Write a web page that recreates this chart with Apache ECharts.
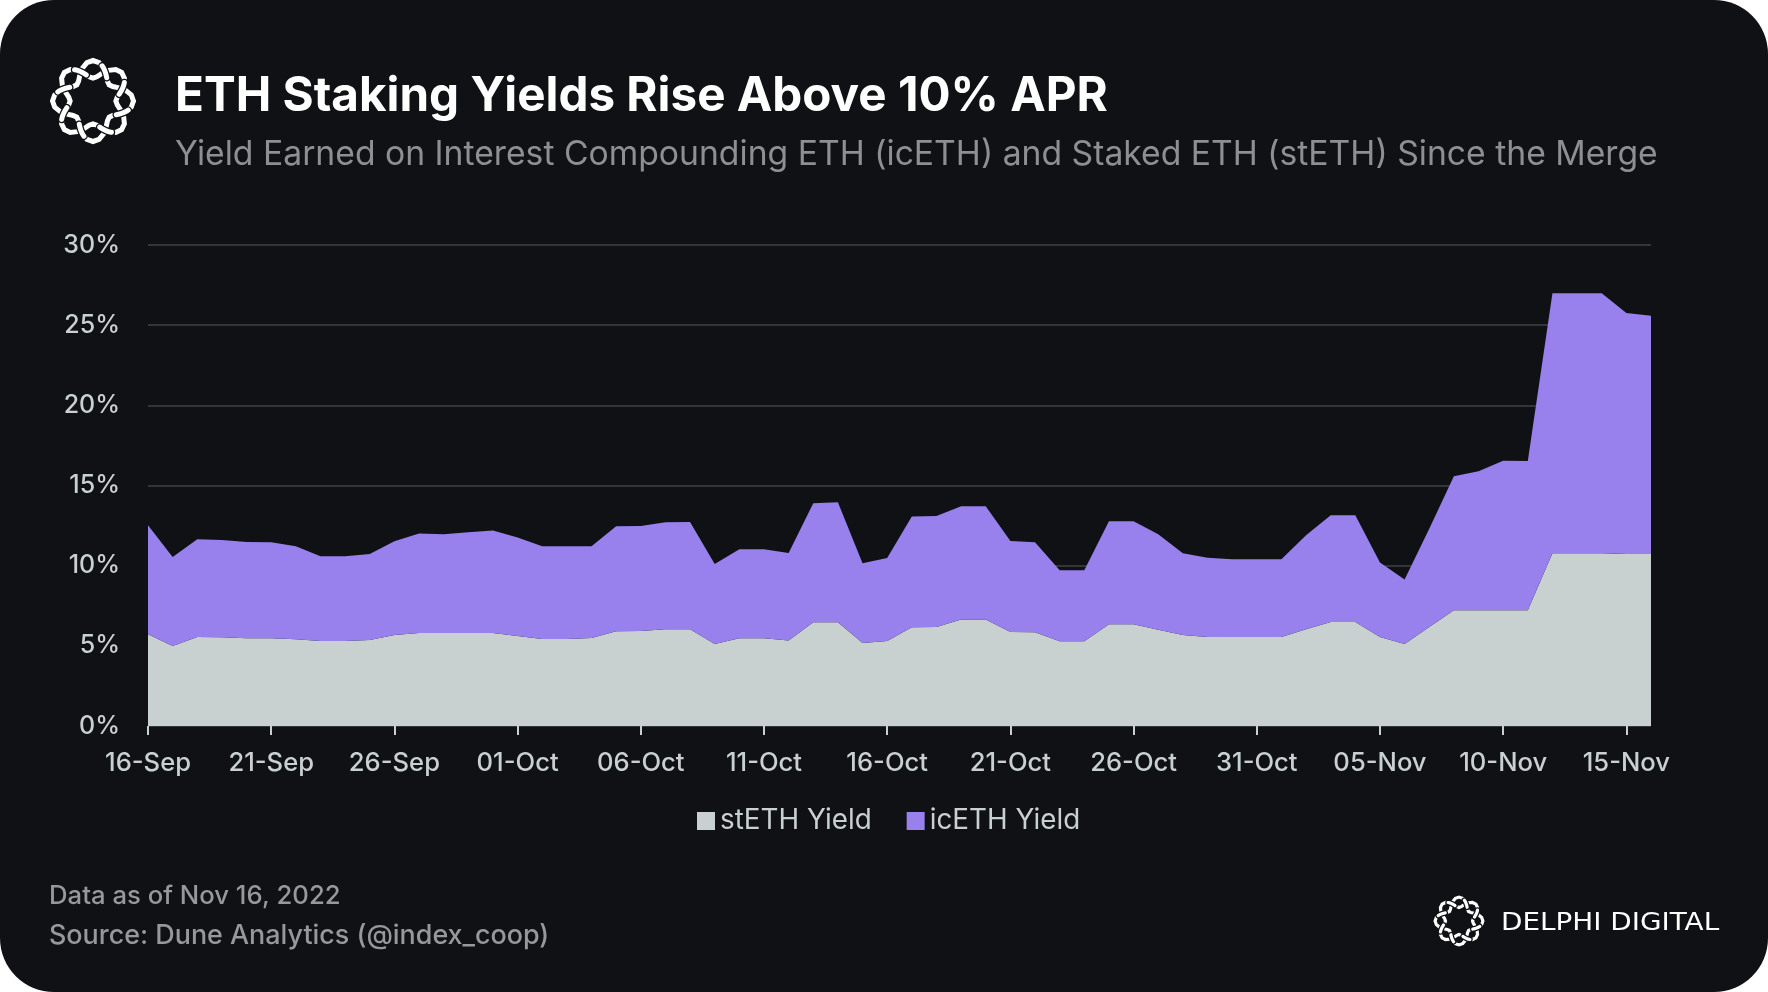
<!DOCTYPE html>
<html>
<head>
<meta charset="utf-8">
<title>ETH Staking Yields</title>
<script src="https://cdn.jsdelivr.net/npm/echarts@6/dist/echarts.min.js"></script>
<style>
  html, body { margin: 0; padding: 0; background: #ffffff; }
  #chart { width: 1768px; height: 992px; background: #101114; border-radius: 54px; overflow: hidden; }
</style>
</head>
<body>
<div id="chart"></div>
<script>
const dates = [
  "16-Sep", "17-Sep", "18-Sep", "19-Sep", "20-Sep", "21-Sep", "22-Sep", "23-Sep", "24-Sep", "25-Sep",
  "26-Sep", "27-Sep", "28-Sep", "29-Sep", "30-Sep", "01-Oct", "02-Oct", "03-Oct", "04-Oct", "05-Oct",
  "06-Oct", "07-Oct", "08-Oct", "09-Oct", "10-Oct", "11-Oct", "12-Oct", "13-Oct", "14-Oct", "15-Oct",
  "16-Oct", "17-Oct", "18-Oct", "19-Oct", "20-Oct", "21-Oct", "22-Oct", "23-Oct", "24-Oct", "25-Oct",
  "26-Oct", "27-Oct", "28-Oct", "29-Oct", "30-Oct", "31-Oct", "01-Nov", "02-Nov", "03-Nov", "04-Nov",
  "05-Nov", "06-Nov", "07-Nov", "08-Nov", "09-Nov", "10-Nov", "11-Nov", "12-Nov", "13-Nov", "14-Nov",
  "15-Nov", "16-Nov",
];

const stethYield = [
  5.72, 4.99, 5.55, 5.53, 5.47, 5.47, 5.41, 5.3, 5.3, 5.36,
  5.68, 5.8, 5.8, 5.8, 5.8, 5.61, 5.43, 5.43, 5.49, 5.91,
  5.93, 6.03, 6.03, 5.12, 5.47, 5.47, 5.34, 6.47, 6.47, 5.18,
  5.3, 6.16, 6.18, 6.65, 6.65, 5.86, 5.84, 5.28, 5.28, 6.34,
  6.34, 6.01, 5.68, 5.55, 5.55, 5.55, 5.55, 6.03, 6.49, 6.49,
  5.55, 5.12, 6.18, 7.22, 7.22, 7.22, 7.22, 10.77, 10.77, 10.77,
  10.73, 10.73,
];

const icethYield = [
  6.8, 5.55, 6.09, 6.07, 6.01, 5.99, 5.8, 5.28, 5.28, 5.37,
  5.84, 6.2, 6.16, 6.28, 6.4, 6.14, 5.78, 5.78, 5.72, 6.55,
  6.55, 6.68, 6.7, 4.99, 5.55, 5.55, 5.45, 7.42, 7.48, 4.97,
  5.18, 6.9, 6.92, 7.05, 7.05, 5.68, 5.62, 4.43, 4.43, 6.43,
  6.43, 5.95, 5.09, 4.95, 4.85, 4.85, 4.85, 5.86, 6.65, 6.65,
  4.64, 4.01, 6.13, 8.35, 8.67, 9.33, 9.31, 16.22, 16.22, 16.22,
  15.03, 14.85,
];

const FONT = "Inter";
const BG = "#101114";
const LABEL = "#c8d1cf";
const MUTED = "#8d8f94";

// logo: two strands woven around a ring
function strand(cx, cy, R, a, sign, from, to) {
  const pts = [];
  const steps = 40;
  for (let i = 0; i <= steps; i++) {
    const t = from + ((to - from) * i) / steps;
    const r = R + sign * a * Math.cos(4 * t);
    pts.push([cx + r * Math.cos(t), cy + r * Math.sin(t)]);
  }
  return pts;
}

function logo(cx, cy, size, width) {
  const R = size * 0.72;
  const a = size * 0.2;
  const line = (points, color, w) => ({
    type: "polyline",
    silent: true,
    shape: { points: points },
    style: { stroke: color, lineWidth: w, fill: null, lineCap: "round" },
  });
  const out = [
    line(strand(cx, cy, R, a, 1, 0, Math.PI * 2), "#ffffff", width),
    line(strand(cx, cy, R, a, -1, 0, Math.PI * 2), "#ffffff", width),
  ];
  // over / under at each crossing
  for (let k = 0; k < 8; k++) {
    const t = (Math.PI / 8) * (1 + 2 * k);
    const sign = k % 2 === 0 ? 1 : -1;
    const pts = strand(cx, cy, R, a, sign, t - 0.14, t + 0.14);
    out.push(line(pts, BG, width + 2.5));
    out.push(line(pts, "#ffffff", width));
  }
  return out;
}

const chart = echarts.init(document.getElementById("chart"));

chart.setOption({
  backgroundColor: "transparent",
  animation: false,
  textStyle: { fontFamily: FONT },
  title: [
    {
      text: "ETH Staking Yields Rise Above 10% APR",
      left: 170,
      top: 68,
      textStyle: { color: "#ffffff", fontFamily: FONT, fontSize: 47.6, fontWeight: 700 },
    },
    {
      text: "Yield Earned on Interest Compounding ETH (icETH) and Staked ETH (stETH) Since the Merge",
      left: 170,
      top: 133,
      textStyle: { color: MUTED, fontFamily: FONT, fontSize: 33.7, fontWeight: 400 },
    },
    {
      text: "Data as of Nov 16, 2022",
      left: 44,
      top: 878,
      textStyle: { color: "#96989c", fontFamily: FONT, fontSize: 25.7, fontWeight: 500 },
    },
    {
      text: "Source: Dune Analytics (@index_coop)",
      left: 44,
      top: 917,
      textStyle: { color: "#96989c", fontFamily: FONT, fontSize: 26.9, fontWeight: 500 },
    },
  ],
  legend: {
    left: 692,
    top: 802,
    icon: "rect",
    itemWidth: 18,
    itemHeight: 18,
    itemGap: 35,
    textStyle: { color: LABEL, fontFamily: FONT, fontSize: 27.8, fontWeight: 400 },
    data: ["stETH Yield", "icETH Yield"],
  },
  grid: { left: 148, right: 117, top: 245, bottom: 266 },
  xAxis: {
    type: "category",
    boundaryGap: false,
    data: dates,
    axisLine: { show: false },
    axisTick: {
      show: true,
      interval: 4,
      length: 9,
      lineStyle: { color: LABEL, width: 2 },
    },
    axisLabel: {
      interval: 4,
      margin: 24,
      color: LABEL,
      fontFamily: FONT,
      fontSize: 25.6,
      fontWeight: 500,
    },
    splitLine: { show: false },
  },
  yAxis: {
    type: "value",
    min: 0,
    max: 30,
    interval: 5,
    axisLine: { show: false },
    axisTick: { show: false },
    axisLabel: {
      margin: 28,
      color: LABEL,
      fontFamily: FONT,
      fontSize: 25,
      fontWeight: 500,
      padding: [0, 0, 4, 0],
      formatter: "{value}%",
    },
    splitLine: { lineStyle: { color: "#34353b", width: 2 } },
  },
  series: [
    {
      name: "stETH Yield",
      type: "line",
      stack: "total",
      symbol: "none",
      lineStyle: { width: 0 },
      itemStyle: { color: "#c8d1cf" },
      areaStyle: { color: "#c8d1cf", opacity: 1 },
      data: stethYield,
    },
    {
      name: "icETH Yield",
      type: "line",
      stack: "total",
      symbol: "none",
      lineStyle: { width: 0 },
      itemStyle: { color: "#9880ed" },
      areaStyle: { color: "#9880ed", opacity: 1 },
      data: icethYield,
    },
  ],
  graphic: logo(93, 101, 44, 5)
    .concat(logo(1459, 921, 26, 3.2))
    .concat([
      {
        type: "text",
        x: 1501,
        y: 912,
        scaleX: 1.16,
        silent: true,
        style: {
          text: "DELPHI DIGITAL",
          fill: "#ffffff",
          fontFamily: "DejaVu Sans",
          fontSize: 24,
        },
      },
    ]),
});
</script>
</body>
</html>
